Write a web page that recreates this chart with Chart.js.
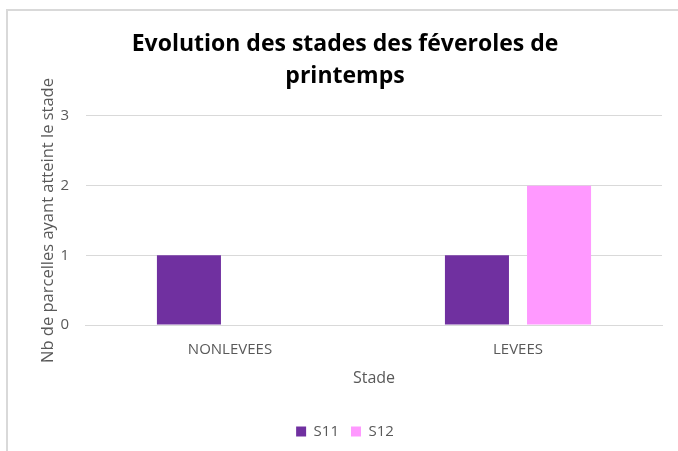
<!DOCTYPE html>
<html>
<head>
<meta charset="utf-8">
<script src="https://cdn.jsdelivr.net/npm/chart.js@4/dist/chart.umd.min.js"></script>
<style>
  html, body { margin: 0; padding: 0; background: #ffffff; }
  #wrap { position: relative; width: 678px; height: 451px; }
</style>
</head>
<body>
<div id="wrap"><canvas id="c" width="678" height="451"></canvas></div>
<script>
const categories = ["NONLEVEES", "LEVEES"];
const seriesNames = ["S11", "S12"];
const s11Values = [1, 1];
const s12Values = [0, 2];
const yTicks = [0, 1, 2, 3];

const FONT = "'Open Sans', 'Liberation Sans', sans-serif";
const GREY_TXT = "#595959";
const GRID = "#d9d9d9";

const frame = {
  id: "frame",
  beforeDraw(chart) {
    const ctx = chart.ctx;
    ctx.save();
    ctx.fillStyle = "#ffffff";
    ctx.fillRect(0, 0, chart.width, chart.height);
    ctx.strokeStyle = "#d9d9d9";
    ctx.lineWidth = 2;
    ctx.beginPath();
    ctx.moveTo(7, chart.height);
    ctx.lineTo(7, 10);
    ctx.lineTo(chart.width, 10);
    ctx.stroke();
    ctx.restore();
  }
};

new Chart(document.getElementById("c"), {
  type: "bar",
  data: {
    labels: categories,
    datasets: [
      { label: seriesNames[0], data: s11Values, backgroundColor: "#7030A0", borderWidth: 0 },
      { label: seriesNames[1], data: s12Values, backgroundColor: "#FF99FF", borderWidth: 0 }
    ]
  },
  options: {
    responsive: false,
    animation: false,
    devicePixelRatio: 1,
    layout: { padding: { left: 28, right: 16, top: 10, bottom: 2 } },
    datasets: { bar: { categoryPercentage: 0.57, barPercentage: 0.78 } },
    plugins: {
      title: {
        display: true,
        text: ["Evolution des stades des féveroles de", "printemps"],
        color: "#000000",
        font: { family: FONT, size: 23, weight: "bold", lineHeight: 1.38 },
        padding: { top: 19, bottom: 23.5 }
      },
      legend: {
        position: "bottom",
        labels: {
          color: GREY_TXT,
          font: { family: FONT, size: 15 },
          boxWidth: 10,
          boxHeight: 10,
          padding: 12
        }
      },
      tooltip: { enabled: false }
    },
    scales: {
      x: {
        grid: { display: false, drawTicks: false },
        border: { display: true, color: GRID, width: 1 },
        ticks: { color: GREY_TXT, font: { family: FONT, size: 15 }, padding: 16 },
        title: {
          display: true, text: "Stade", color: GREY_TXT,
          font: { family: FONT, size: 16 }, padding: { top: -6.6, bottom: 24.4 }
        }
      },
      y: {
        min: 0, max: 3,
        afterBuildTicks(scale) { scale.ticks = yTicks.map(v => ({ value: v })); },
        grid: { color: GRID, lineWidth: 1, drawTicks: false },
        border: { display: false },
        ticks: { color: GREY_TXT, font: { family: FONT, size: 15 }, padding: 17 },
        title: {
          display: true, text: "Nb de parcelles ayant atteint le stade", color: GREY_TXT,
          font: { family: FONT, size: 16.5 }, padding: { top: 10.2, bottom: -14.6 }
        }
      }
    }
  },
  plugins: [frame]
});
</script>
</body>
</html>
